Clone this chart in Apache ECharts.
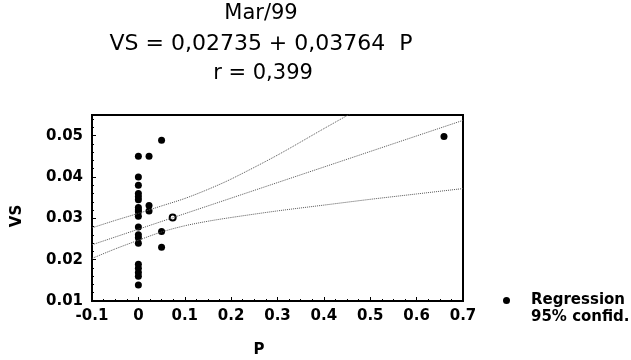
<!DOCTYPE html>
<html><head><meta charset="utf-8">
<script src="https://cdn.jsdelivr.net/npm/echarts@6/dist/echarts.min.js"></script>
<style>html,body{margin:0;padding:0;background:#fff}#c{width:631px;height:360px}</style>
</head><body><div id="c"></div>
<script>
// Observed points (P, VS)
const pointsP  = [0,0,0,0,0,0,0,0,0,0,0,0,0,0,0,0,0,0,0, 0.023,0.023,0.023, 0.05,0.05,0.05, 0.659];
const pointsVS = [0.045,0.040,0.038,0.036,0.0352,0.0345,0.0326,0.0320,0.0316,0.0305,0.0279,0.0260,0.0253,0.0240,0.0189,0.0179,0.0169,0.0160,0.0139,
                  0.045,0.0331,0.0318, 0.0489,0.0268,0.0230, 0.0498];
const hollowP = [0.074];
const hollowVS = [0.0302];
// Fitted line and 95% confidence bands
const regP    = [-0.1, 0.7];
const regVS   = [0.0236, 0.0537];
const bandP   = [-0.1, -0.05, 0, 0.05, 0.1, 0.15, 0.2, 0.3, 0.4, 0.5, 0.6, 0.7];
const upperVS = [0.0277, 0.0295, 0.0312, 0.0330, 0.0348, 0.0370, 0.0395, 0.0453, 0.0517, 0.0580, 0.0642, 0.0704];
const lowerVS = [0.0203, 0.0226, 0.0247, 0.0267, 0.0282, 0.0293, 0.0302, 0.0318, 0.0332, 0.0346, 0.0359, 0.0372];
const titleLines = ['Mar/99', 'VS = 0,02735 + 0,03764  P', 'r = 0,399'];
const xName = 'P', yName = 'VS';
const legendNames = ['Regression', '95% confid.'];

const zip = (a, b) => a.map((v, i) => [v, b[i]]);
const chart = echarts.init(document.getElementById('c'));
const lbl = {fontFamily: 'DejaVu Sans', fontWeight: 'bold', fontSize: 15, color: '#000'};
const dotted = {type: 'dotted', color: '#555', width: 1};
const tfont = '21px "DejaVu Sans"';
chart.setOption({
  animation: false,
  grid: {left: 92, right: 168, top: 115, bottom: 59, show: true, borderColor: '#000', borderWidth: 2},
  xAxis: {type: 'value', min: -0.1, max: 0.7, interval: 0.1,
    axisLine: {onZero: false, lineStyle: {color: '#000', width: 2}},
    axisTick: {inside: true, length: 4, lineStyle: {color: '#000'}},
    minorTick: {show: true, splitNumber: 4, length: 2, lineStyle: {color: '#000'}},
    splitLine: {show: false},
    axisLabel: Object.assign({margin: 8, formatter: v => String(Math.round(v * 10) / 10)}, lbl)},
  yAxis: {type: 'value', min: 0.01, max: 0.055, interval: 0.01,
    axisLine: {onZero: false, lineStyle: {color: '#000', width: 2}},
    axisTick: {inside: true, length: 4, lineStyle: {color: '#000'}},
    minorTick: {show: true, splitNumber: 5, length: 2, lineStyle: {color: '#000'}},
    splitLine: {show: false},
    axisLabel: Object.assign({margin: 9, showMaxLabel: false, formatter: v => v.toFixed(2)}, lbl)},
  legend: {orient: 'vertical', left: 503, top: 293, padding: 0, itemGap: 2, itemWidth: 7, itemHeight: 7,
    textStyle: {fontFamily: 'DejaVu Sans', fontWeight: 'bold', fontSize: 15, color: '#000', padding: [0, 0, 0, 16]},
    data: [{name: legendNames[0], icon: 'circle'}, {name: legendNames[1], icon: 'none'}]},
  graphic: [
    {type: 'text', style: {x: 261, y: 14, text: titleLines[0], textAlign: 'center', textVerticalAlign: 'middle', font: tfont, fill: '#000'}},
    {type: 'text', style: {x: 261, y: 44, text: titleLines[1], textAlign: 'center', textVerticalAlign: 'middle', font: '22px "DejaVu Sans"', fill: '#000'}},
    {type: 'text', style: {x: 263, y: 74, text: titleLines[2], textAlign: 'center', textVerticalAlign: 'middle', font: tfont, fill: '#000'}},
    {type: 'text', style: {x: 259, y: 350, text: xName, textAlign: 'center', textVerticalAlign: 'middle', font: 'bold 15px "DejaVu Sans"', fill: '#000'}},
    {type: 'text', rotation: Math.PI / 2, x: 17, y: 216, style: {x: 0, y: 0, text: yName, textAlign: 'center', textVerticalAlign: 'middle', font: 'bold 15px "DejaVu Sans"', fill: '#000'}}
  ],
  series: [
    {name: legendNames[1], type: 'line', data: zip(bandP, upperVS), symbol: 'none', smooth: 0.3, clip: true, lineStyle: dotted, itemStyle: {color: '#555'}},
    {name: legendNames[1], type: 'line', data: zip(bandP, lowerVS), symbol: 'none', smooth: 0.3, clip: true, lineStyle: dotted, itemStyle: {color: '#555'}},
    {name: 'fit', type: 'line', data: zip(regP, regVS), symbol: 'none', clip: true, lineStyle: dotted},
    {name: legendNames[0], type: 'scatter', data: zip(pointsP, pointsVS), symbol: 'circle', symbolSize: 7, itemStyle: {color: '#000', opacity: 1}},
    {name: 'hollow', type: 'scatter', data: zip(hollowP, hollowVS), symbol: 'emptyCircle', symbolSize: 6, itemStyle: {color: '#000', borderWidth: 1.5, opacity: 1}}
  ]
});
</script></body></html>
